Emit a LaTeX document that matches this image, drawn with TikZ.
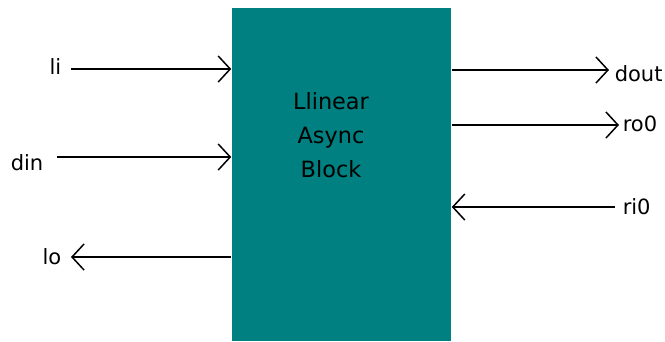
\documentclass[tikz,border=0pt]{standalone}
\usepackage{fontspec}
\setmainfont{DejaVu Sans}
\usetikzlibrary{arrows.meta,positioning}
\definecolor{blockteal}{RGB}{0,128,128}

\begin{document}
\begin{tikzpicture}[x=1pt,y=-1pt,>={Straight Barb[length=12pt,width=26pt]}, line width=1.5pt,
      block/.style={rectangle,fill=blockteal,minimum width=219pt,minimum height=333pt,inner sep=0pt},
      port/.style={inner sep=0pt,text=black,font=\fontsize{21}{25}\selectfont},
      title/.style={align=center,inner sep=0pt,text=black,font=\fontsize{22.4}{34}\selectfont}]
    \useasboundingbox (0,0) rectangle (665,341);
    \node[block] (blk) at (341.5,174.5) {};
    \node[title] (name) at (331,135) {Llinear\\Async\\Block};
    % inputs and outputs on the left
    \coordinate (liS) at (71,69);  \node[port,left=9pt of liS,yshift=2.5pt] (li) {li};
    \coordinate (dinS) at (57,157); \node[port,left=13pt of dinS,yshift=-5.5pt] (din) {din};
    \coordinate (loS) at (71,257); \node[port,left=9pt of loS] (lo) {lo};
    \draw[->] (liS) -- (liS -| blk.west);
    \draw[->] (dinS) -- (dinS -| blk.west);
    \draw[->] (loS -| blk.west) -- (loS);
    % inputs and outputs on the right
    \coordinate (doutS) at (609,70); \node[port,right=5pt of doutS,yshift=-4pt] (dout) {dout};
    \coordinate (roS) at (619,125); \node[port,right=3pt of roS,yshift=1.5pt] (ro) {ro0};
    \coordinate (riS) at (615,207); \node[port,right=7pt of riS] (ri) {ri0};
    \draw[->] (doutS -| blk.east) -- (doutS);
    \draw[->] (roS -| blk.east) -- (roS);
    \draw[->] (riS) -- (riS -| blk.east);
\end{tikzpicture}
\end{document}
